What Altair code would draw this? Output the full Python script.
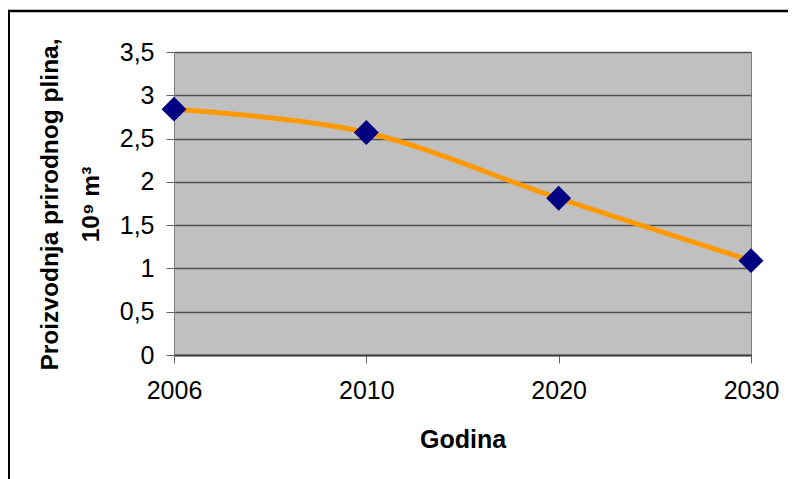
import altair as alt
import pandas as pd

years = ["2006", "2010", "2020", "2030"]
production = [2.84, 2.57, 1.81, 1.09]
y_ticks = [0, 0.5, 1, 1.5, 2, 2.5, 3, 3.5]

df = pd.DataFrame({"Godina": years, "Proizvodnja": production})

FONT = "Liberation Sans"

x_enc = alt.X(
    "Godina:O",
    sort=years,
    scale=alt.Scale(type="point", padding=0),
    axis=alt.Axis(
        title="Godina",
        labelAngle=0,
        labelFontSize=25,
        labelFont=FONT,
        labelColor="black",
        labelPadding=15,
        tickSize=8,
        tickColor="#606060",
        domainColor="#404040",
        domainWidth=2,
        titleFontSize=25,
        titleFont=FONT,
        titleFontWeight="bold",
        titleColor="black",
        titleY=92,
        titleBaseline="alphabetic",
        grid=False,
    ),
)

y_enc = alt.Y(
    "Proizvodnja:Q",
    scale=alt.Scale(domain=[0, 3.5], nice=False, zero=True),
    axis=alt.Axis(
        title=["Proizvodnja prirodnog plina,", "10⁹ m³"],
        values=y_ticks,
        labelExpr="replace(format(datum.value, ''), '.', ',')",
        labelFontSize=25,
        labelFont=FONT,
        labelColor="black",
        labelPadding=12,
        tickSize=8,
        tickColor="#606060",
        domainColor="#808080",
        domainWidth=1,
        gridColor="#505050",
        gridWidth=1.5,
        gridOpacity=1,
        titleFontSize=24.5,
        titleFont=FONT,
        titleFontWeight="bold",
        titleColor="black",
        titleX=-117,
        titleY=152,
        titleAngle=270,
        titleAlign="center",
        titleBaseline="alphabetic",
        titleLineHeight=41,
    ),
)

base = alt.Chart(df)

line = base.mark_line(
    color="#FF9900", strokeWidth=5, interpolate="cardinal"
).encode(x=x_enc, y=y_enc)

points = base.mark_point(
    shape="diamond", filled=True, color="#000080", size=620, opacity=1
).encode(x=alt.X("Godina:O", sort=years), y="Proizvodnja:Q")

frame = alt.Chart(pd.DataFrame({"a": [0]})).mark_rect(
    fill=None, stroke="black", strokeWidth=2.5
).encode(
    x=alt.value(-165.3),
    x2=alt.value(700),
    y=alt.value(-41),
    y2=alt.value(500),
)

chart = (
    alt.layer(line, points, frame)
    .properties(
        width=577,
        height=303,
        autosize=alt.AutoSizeParams(type="none"),
        padding={"left": 166, "top": 44, "right": 37, "bottom": 124},
    )
    .configure(background="white")
    .configure_view(fill="#C0C0C0", stroke="#808080", strokeWidth=1)
)

chart.save("out.html", embed_options={"renderer": "svg", "actions": False})
